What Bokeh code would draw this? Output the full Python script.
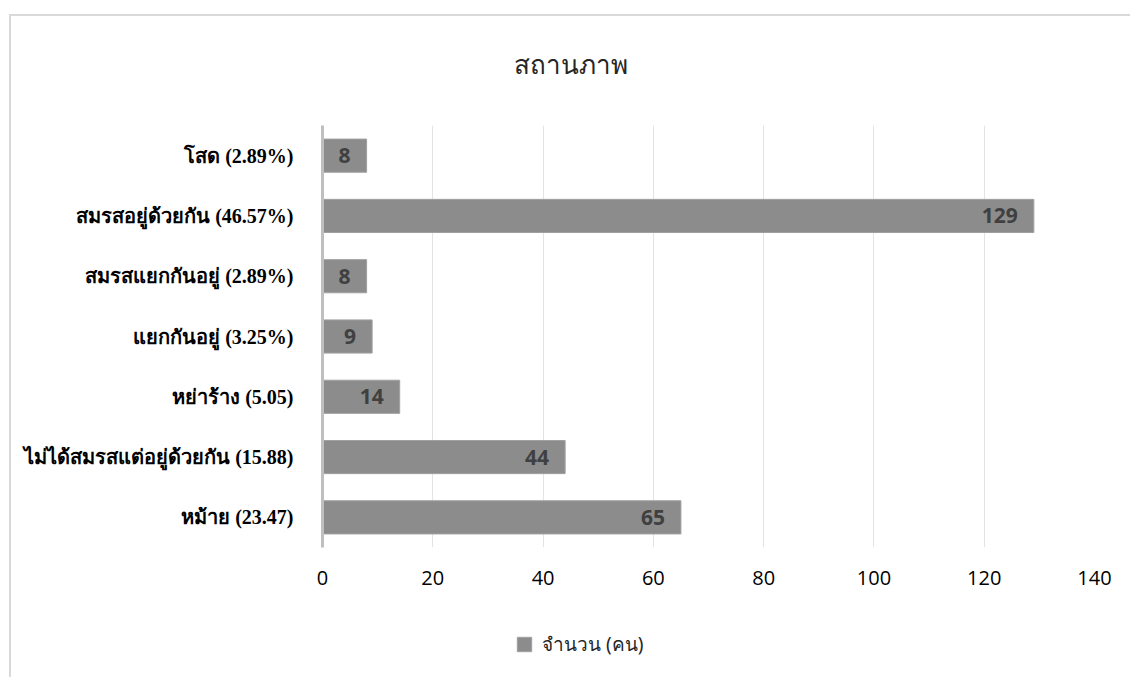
from bokeh.plotting import figure
from bokeh.layouts import column
from bokeh.models import ColumnDataSource, FactorRange, Range1d, LabelSet, Label, Legend, LegendItem, FixedTicker
from bokeh.core.properties import value
from bokeh.embed import file_html
from bokeh.resources import INLINE

categories = ["โสด (2.89%)", "สมรสอยู่ด้วยกัน (46.57%)", "สมรสแยกกันอยู่ (2.89%)",
              "แยกกันอยู่ (3.25%)", "หย่าร้าง (5.05)", "ไม่ได้สมรสแต่อยู่ด้วยกัน (15.88)",
              "หม้าย (23.47)"]
counts = [8, 129, 8, 9, 14, 44, 65]
x_ticks = [0, 20, 40, 60, 80, 100, 120, 140]
title_text = "สถานภาพ"
series_name = "จำนวน (คน)"

bar_color = "#8c8c8c"
bar_edge = "#a0a0a0"
border = "2px solid #d9d9d9"

source = ColumnDataSource(dict(cat=categories, val=counts, lbl=[str(v) for v in counts]))


def strip(height, top_margin, styles):
    f = figure(width=1121, height=height, margin=(top_margin, 0, 0, 9),
               x_range=Range1d(0, 140), y_range=Range1d(0, 1),
               x_axis_type=None, y_axis_type=None,
               output_backend="svg", toolbar_location=None,
               min_border_left=0, min_border_right=0, min_border_top=0, min_border_bottom=0)
    f.styles = styles
    f.outline_line_color = None
    f.xgrid.grid_line_color = None
    f.ygrid.grid_line_color = None
    f.border_fill_color = "white"
    f.background_fill_color = "white"
    return f


# title strip
tt = strip(111, 14, {"border-top": border, "border-left": border})
tt.add_layout(Label(x=45.0, y=0.57, text=title_text, text_align="center", text_baseline="middle",
                    text_font="Noto Sans", text_font_size="26px", text_color="#262626"))

# main chart
p = figure(width=1121, height=485, margin=(0, 0, 0, 9),
           y_range=FactorRange(factors=list(reversed(categories)), range_padding=0),
           x_range=Range1d(0, 140),
           output_backend="svg", toolbar_location=None,
           min_border_left=311, min_border_right=38,
           min_border_top=0, min_border_bottom=63)
p.styles = {"border-left": border}
p.outline_line_color = None
p.background_fill_color = "white"
p.border_fill_color = "white"

r = p.hbar(y="cat", right="val", left=0, height=0.55, source=source,
           fill_color=bar_color, line_color=bar_edge, line_width=1)

labels = LabelSet(x="val", y="cat", text="lbl", source=source, x_offset=-16,
                  text_align="right", text_baseline="middle",
                  text_font=value("Open Sans"), text_font_style="bold",
                  text_font_size="21px", text_color="#404040")
p.add_layout(labels)

p.xaxis.ticker = FixedTicker(ticks=x_ticks)
p.xaxis.axis_line_color = None
p.xaxis.major_tick_line_color = None
p.xaxis.minor_tick_line_color = None
p.xaxis.major_label_text_font = "Open Sans"
p.xaxis.major_label_text_font_size = "20px"
p.xaxis.major_label_text_color = "#000000"
p.xaxis.major_label_standoff = 17

p.yaxis.axis_line_color = "#bfbfbf"
p.yaxis.axis_line_width = 3
p.yaxis.major_tick_line_color = None
p.yaxis.minor_tick_line_color = None
p.yaxis.major_label_text_font = "Liberation Serif"
p.yaxis.major_label_text_font_style = "bold"
p.yaxis.major_label_text_font_size = "20px"
p.yaxis.major_label_text_color = "#000000"
p.yaxis.major_label_standoff = 23

p.xgrid.grid_line_color = "#e3e3e3"
p.xgrid.grid_line_width = 1
p.ygrid.grid_line_color = None

# legend strip
lg = strip(67, 0, {"border-left": border})
r2 = lg.hbar(y="val", right="val", left=0, height=0.55, source=source,
             fill_color=bar_color, line_color=bar_edge, line_width=1)
r2.visible = False
legend = Legend(items=[LegendItem(label=series_name, renderers=[r2])],
                location=(193, 18), orientation="horizontal",
                margin=0, padding=0, glyph_width=18, glyph_height=18, label_standoff=9,
                border_line_color=None, background_fill_alpha=0,
                inactive_fill_alpha=0,
                label_text_font="Noto Sans", label_text_font_size="19px",
                label_text_color="#262626")
lg.add_layout(legend)

layout = column(tt, p, lg, spacing=0)
open("out.html", "w").write(file_html(layout, INLINE))
